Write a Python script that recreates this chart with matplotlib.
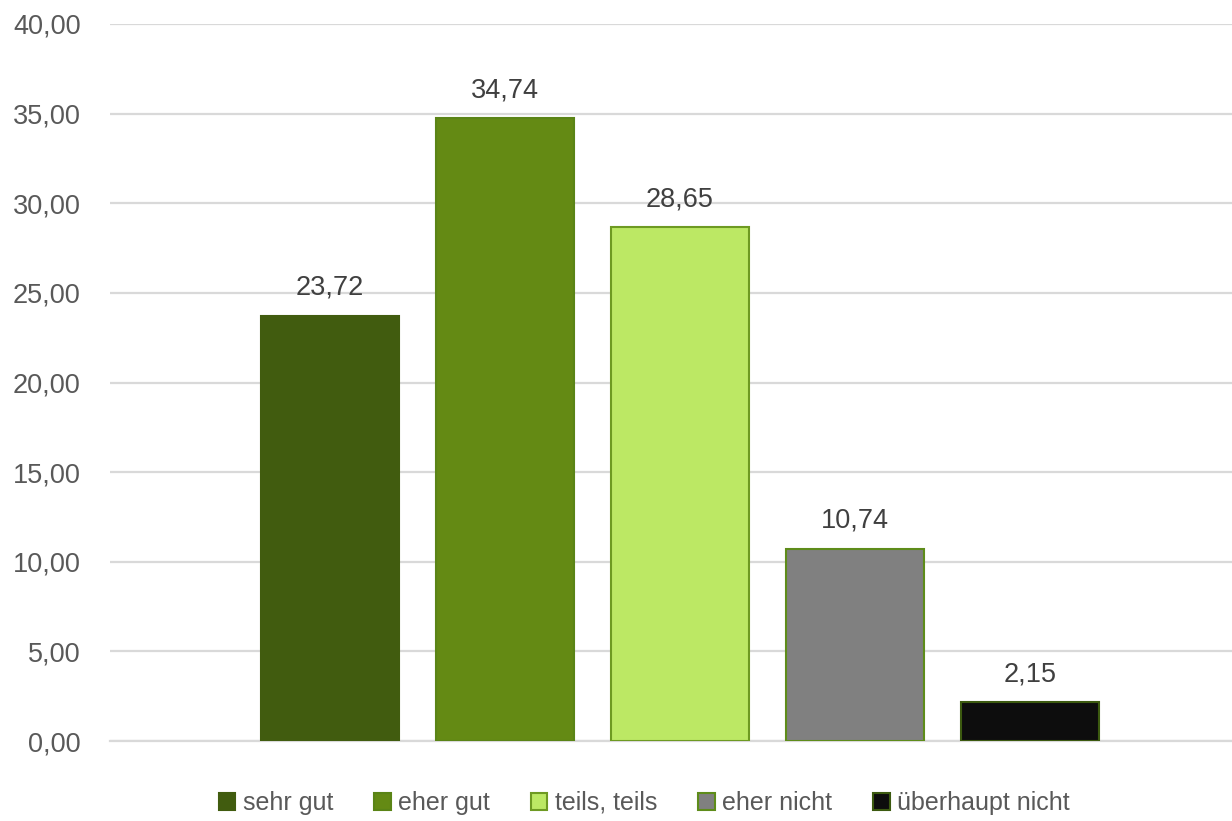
import matplotlib.pyplot as plt
from matplotlib import font_manager
import numpy as np

categories = ["sehr gut", "eher gut", "teils, teils", "eher nicht", "überhaupt nicht"]
values = [23.72, 34.74, 28.65, 10.74, 2.15]
colors = ["#415c0f", "#648a14", "#bce864", "#808080", "#0d0d0d"]
edges = ["#415c0f", "#5a8416", "#6e9a22", "#5e8c1a", "#3c5a10"]
yticks = np.arange(0, 45, 5)

fams = [f.name for f in font_manager.fontManager.ttflist]
font = "Liberation Sans Narrow" if "Liberation Sans Narrow" in fams else "Liberation Sans"
plt.rcParams["font.family"] = [font, "DejaVu Sans"]
txt = "#595959"

fig = plt.figure(figsize=(12.32, 8.21), dpi=100)
ax = fig.add_axes([0.0893, 0.0974, 0.9107, 0.8734])

x = np.arange(len(values))
bars = ax.bar(x, values, width=0.79, color=colors, edgecolor=edges, linewidth=1.5,
              label=categories, zorder=3)
for xi, v in zip(x, values):
    ax.text(xi, v + 0.85, f"{v:.2f}".replace(".", ","), ha="center", va="bottom",
            fontsize=19.5, color="#404040")

ax.set_ylim(0, 40)
ax.set_xlim(-1.257, 5.154)
ax.set_yticks(yticks)
ax.set_yticklabels([f"{t:.2f}".replace(".", ",") for t in yticks], fontsize=19.5, color=txt)
ax.set_xticks([])
ax.yaxis.grid(True, color="#d9d9d9", linewidth=1.6, zorder=0)
ax.tick_params(axis="y", length=0, pad=21)
for s in ["top", "right", "left"]:
    ax.spines[s].set_visible(False)
ax.spines["bottom"].set_color("#d9d9d9")
ax.spines["bottom"].set_linewidth(1.6)

fig.legend(bars, categories, loc="center", bbox_to_anchor=(0.523, 0.022), ncol=5,
           frameon=False, fontsize=18, labelcolor=txt, handlelength=0.65,
           handleheight=0.65, handletextpad=0.3, columnspacing=1.65)

fig.savefig("out.png", dpi=100)
